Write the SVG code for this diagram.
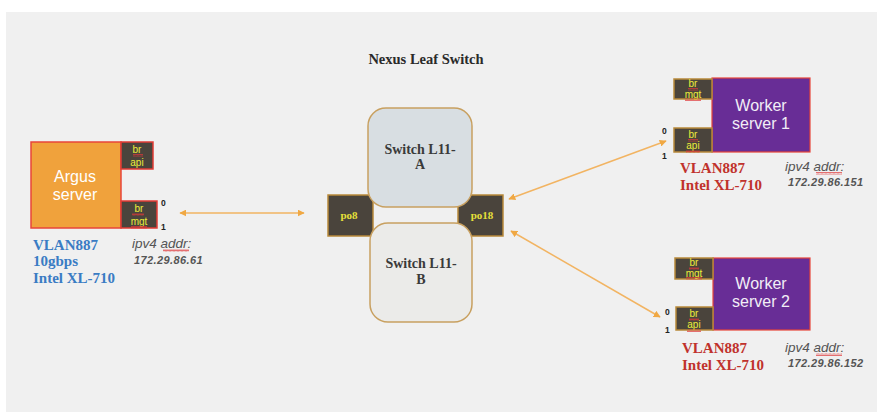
<svg xmlns="http://www.w3.org/2000/svg" width="877" height="412" viewBox="0 0 877 412">
<defs>
<marker id="ah" viewBox="0 0 10 10" refX="9" refY="5" markerWidth="7" markerHeight="7" orient="auto-start-reverse" markerUnits="userSpaceOnUse">
<path d="M0,0 L10,5 L0,10 z" fill="#f0a843"/>
</marker>
<pattern id="sq" width="4" height="3" patternUnits="userSpaceOnUse">
<path d="M0,2.5 L1,0.5 L2,2.5 L3,0.5 L4,2.5" fill="none" stroke="#e0383a" stroke-width="0.7"/>
</pattern>
</defs>
<style>
.conn{stroke:#f2b462;stroke-width:1.5;fill:none;marker-start:url(#ah);marker-end:url(#ah)}
.port{fill:#4a443c;stroke:#b8893a;stroke-width:1.5}
.portr{fill:#4a443c;stroke:#e23b35;stroke-width:1.5}
.pt{font-family:"Liberation Sans",Arial,sans-serif;font-size:10px;fill:#ecec3a;text-anchor:middle}
.po{font-family:"Liberation Serif","Times New Roman",serif;font-weight:bold;font-size:11px;fill:#e6e03a;text-anchor:middle}
.num{font-family:"Liberation Sans",Arial,sans-serif;font-weight:bold;font-size:8.5px;fill:#222}
.srv{font-family:"Liberation Sans",Arial,sans-serif;font-size:16px;fill:#fff;text-anchor:middle}
.wrk{font-family:"Liberation Sans",Arial,sans-serif;font-size:16px;fill:#f2eef6;text-anchor:middle}
.sw{font-family:"Liberation Serif","Times New Roman",serif;font-weight:bold;font-size:14px;fill:#3a3a3a;text-anchor:middle}
.vb{font-family:"Liberation Serif","Times New Roman",serif;font-weight:bold;font-size:15px;fill:#3a7cc4}
.vr{font-family:"Liberation Serif","Times New Roman",serif;font-weight:bold;font-size:15px;fill:#c0322c}
.ip{font-family:"Liberation Sans",Arial,sans-serif;font-style:italic;font-size:13.5px;fill:#555}
.ipn{font-family:"Liberation Sans",Arial,sans-serif;font-style:italic;font-weight:bold;font-size:11px;fill:#555;letter-spacing:0.4px}
</style>
<rect x="0" y="0" width="877" height="412" fill="#ffffff"/>
<rect x="6" y="12" width="871" height="400" fill="#f0f0f0"/>
<text x="426" y="64" text-anchor="middle" font-family="'Liberation Serif','Times New Roman',serif" font-weight="bold" font-size="14.5" fill="#2a2a2a">Nexus Leaf Switch</text>

<g id="connectors">
<line class="conn" x1="180" y1="213" x2="304" y2="213"/>
<line class="conn" x1="509" y1="199" x2="666" y2="141"/>
<line class="conn" x1="511" y1="231" x2="660" y2="317"/>
</g>

<g id="argus">
<rect x="31" y="142" width="90" height="86" fill="#f0a23c" stroke="#e8453a" stroke-width="1.5"/>
<text class="srv" x="75" y="182">Argus</text>
<text class="srv" x="75" y="200">server</text>
<rect class="portr" x="121" y="142" width="32" height="27"/>
<text class="pt" x="137" y="153">br</text>
<text class="pt" x="137" y="166">api</text>
<rect class="portr" x="121" y="201" width="36" height="27"/>
<text class="pt" x="139" y="212">br</text>
<text class="pt" x="139" y="225">mgt</text>
<rect x="133" y="154" width="10" height="3" fill="url(#sq)"/>
<rect x="132" y="213" width="12" height="3" fill="url(#sq)"/>
<rect x="131" y="226" width="16" height="3" fill="url(#sq)"/>
<text class="num" x="161" y="206">0</text>
<text class="num" x="161" y="230">1</text>
<text class="vb" x="33" y="250">VLAN887</text>
<text class="vb" x="33" y="266">10gbps</text>
<text class="vb" x="33" y="283">Intel XL-710</text>
<text class="ip" x="132" y="248">ipv4 addr:</text>
<rect x="163" y="249" width="26" height="3" fill="url(#sq)"/>
<text class="ipn" x="134" y="264">172.29.86.61</text>
</g>

<g id="po8">
<rect class="port" x="328" y="195" width="45" height="41"/>
<text class="po" x="349" y="219">po8</text>
</g>
<g id="po18">
<rect class="port" x="458" y="195" width="45" height="41"/>
<text class="po" x="482" y="219">po18</text>
</g>

<g id="switchA">
<rect x="368" y="108" width="104" height="99" rx="18" fill="#d8dee2" stroke="#c8a060" stroke-width="1.5"/>
<text class="sw" x="420" y="154">Switch L11-</text>
<text class="sw" x="420" y="169">A</text>
</g>
<g id="switchB">
<rect x="370" y="223" width="102" height="99" rx="18" fill="#ebebe9" stroke="#c8a060" stroke-width="1.5"/>
<text class="sw" x="421" y="268">Switch L11-</text>
<text class="sw" x="421" y="284">B</text>
</g>

<g id="worker1">
<rect x="712" y="78" width="98" height="74" fill="#682d96" stroke="#e8453a" stroke-width="1.2"/>
<text class="wrk" x="761" y="111">Worker</text>
<text class="wrk" x="761" y="129">server 1</text>
<rect class="port" x="674" y="79" width="38" height="20"/>
<text class="pt" x="693" y="87">br</text>
<text class="pt" x="693" y="98">mgt</text>
<rect x="688" y="88" width="10" height="3" fill="url(#sq)"/>
<rect x="685" y="98" width="16" height="3" fill="url(#sq)"/>
<rect class="port" x="674" y="128" width="38" height="24"/>
<text class="pt" x="693" y="138">br</text>
<text class="pt" x="693" y="149">api</text>
<rect x="688" y="139" width="10" height="3" fill="url(#sq)"/>
<rect x="686" y="150" width="14" height="3" fill="url(#sq)"/>
<text class="num" x="662" y="134">0</text>
<text class="num" x="662" y="159">1</text>
<text class="vr" x="680" y="173">VLAN887</text>
<text class="vr" x="680" y="190">Intel XL-710</text>
<text class="ip" x="785" y="171">ipv4 addr:</text>
<rect x="816" y="172" width="26" height="3" fill="url(#sq)"/>
<text class="ipn" x="788" y="186">172.29.86.151</text>
</g>

<g id="worker2">
<rect x="713" y="258" width="97" height="72" fill="#682d96" stroke="#e8453a" stroke-width="1.2"/>
<text class="wrk" x="761" y="289">Worker</text>
<text class="wrk" x="761" y="307">server 2</text>
<rect class="port" x="675" y="258" width="38" height="21"/>
<text class="pt" x="694" y="266">br</text>
<text class="pt" x="694" y="277">mgt</text>
<rect x="689" y="267" width="10" height="3" fill="url(#sq)"/>
<rect x="686" y="277" width="16" height="3" fill="url(#sq)"/>
<rect class="port" x="676" y="307" width="37" height="23"/>
<text class="pt" x="694" y="317">br</text>
<text class="pt" x="694" y="328">api</text>
<rect x="689" y="318" width="10" height="3" fill="url(#sq)"/>
<rect x="687" y="329" width="14" height="3" fill="url(#sq)"/>
<text class="num" x="665" y="315">0</text>
<text class="num" x="665" y="333">1</text>
<text class="vr" x="682" y="353">VLAN887</text>
<text class="vr" x="682" y="370">Intel XL-710</text>
<text class="ip" x="785" y="352">ipv4 addr:</text>
<rect x="816" y="353" width="26" height="3" fill="url(#sq)"/>
<text class="ipn" x="788" y="367">172.29.86.152</text>
</g>
</svg>
